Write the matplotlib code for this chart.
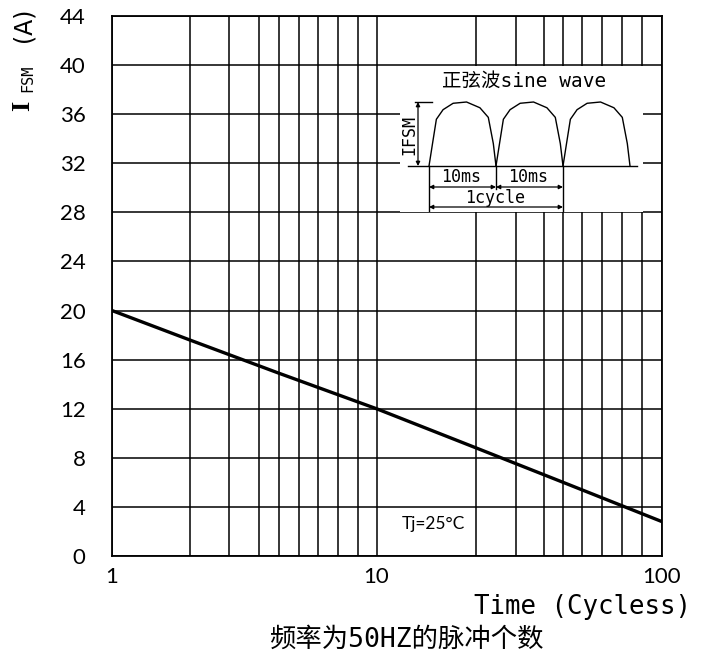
import numpy as np
import matplotlib
matplotlib.use('Agg')
import matplotlib.pyplot as plt

plt.rcParams['font.family'] = ['Lato', 'Noto Sans CJK SC', 'DejaVu Sans']
MONO_CJK = ['DejaVu Sans Mono', 'Noto Sans CJK SC']

# curve
cycles = [1, 2, 5, 10, 20, 50, 100]
ifsm = [20, 17.6, 14.9, 12, 8.8, 6.0, 2.8]

# the printed log grid is not evenly spaced, so map grid values to their drawn positions
grid_x = [1, 2, 3, 4, 5, 6, 7, 8, 9, 10, 20, 30, 40, 50, 60, 70, 80, 90, 100]
grid_pos = [0, 78, 117, 147, 167, 187, 206, 226, 246, 265, 365, 405, 433, 452, 471, 491, 511, 531, 551]
x_ticks = [1, 10, 100]
y_ticks = list(range(0, 45, 4))

def fwd(x):
    return np.interp(x, grid_x, grid_pos)

def inv(p):
    return np.interp(p, grid_pos, grid_x)

W, H = 708, 661
fig = plt.figure(figsize=(W/100, H/100), dpi=100)
ax = fig.add_axes([112/W, 1-556/H, 550/W, 540/H])
ax.set_xscale('function', functions=(fwd, inv))
ax.set_xlim(1, 100)
ax.set_ylim(0, 44)
ax.set_xticks(x_ticks)
ax.set_xticklabels(['1', '10', '100'])
ax.set_xticks(grid_x, minor=True)
ax.set_yticks(y_ticks)
ax.tick_params(which='both', length=0)
ax.tick_params(axis='y', pad=19, labelsize=16)
ax.tick_params(axis='x', pad=8, labelsize=16)
ax.grid(True, which='both', color='black', lw=1.1)
ax.set_axisbelow(True)
for s in ax.spines.values():
    s.set_linewidth(1.3)
ax.plot(cycles, ifsm, color='black', lw=2.4, zorder=3)
ax.text(0.585, 0.06, 'Tj=25°C', transform=ax.transAxes, fontsize=12.5, ha='center', va='center')

# axis labels
fig.text(23/W, 1-106/H, 'I', rotation=90, family=['Liberation Serif'], fontsize=19,
         fontweight='bold', ha='center', va='center')
fig.text(28/W, 1-78/H, 'FSM', rotation=90, family=MONO_CJK, fontsize=11, ha='center', va='center')
fig.text(24/W, 1-25/H, '(A)', rotation=90, family=['DejaVu Sans'], fontsize=17,
         ha='center', va='center')
fig.text(582/W, 1-607/H, 'Time (Cycless)', family=MONO_CJK, fontsize=18.5, ha='center', va='center')
fig.text(406/W, 1-640/H, '频率为50HZ的脉冲个数', family=MONO_CJK,
         fontsize=19, ha='center', va='center')

# inset sketch of the sine wave, in pixel units of the picture
ins = fig.add_axes([400/W, 1-212/H, 243/W, 146/H])
ins.set_xlim(400, 643)
ins.set_ylim(212, 66)
ins.set_xticks([])
ins.set_yticks([])
for s in ins.spines.values():
    s.set_visible(False)
ins.set_facecolor('white')

hump_x = [0, 0.06, 0.11, 0.21, 0.36, 0.56, 0.76, 0.885, 0.96, 1.0]
hump_y = [0, 0.4, 0.73, 0.88, 0.98, 1.0, 0.91, 0.76, 0.35, 0.0]
x0, period, base, top = 429, 67, 166, 102
for k in range(3):
    hx = [x0 + k*period + f*period for f in hump_x]
    hy = [base - f*(base-top) for f in hump_y]
    ins.plot(hx, hy, color='black', lw=1.0)
ins.plot([408, 637], [base, base], color='black', lw=1.0)
ins.plot([415, 432], [top, top], color='black', lw=1.0)
ins.annotate('', xy=(418, top), xytext=(418, base),
             arrowprops=dict(arrowstyle='<|-|>', lw=0.9, color='black', mutation_scale=6, shrinkA=0, shrinkB=0))
ins.text(409, 135, 'IFSM', rotation=90, family=MONO_CJK, fontsize=12, ha='center', va='center')
for xe, ye in [(429, 211), (496, 189), (563, 211)]:
    ins.plot([xe, xe], [base, ye], color='black', lw=1.0)
for a, b, yy in [(429, 496, 187), (496, 563, 187), (429, 563, 207)]:
    ins.annotate('', xy=(a, yy), xytext=(b, yy),
                 arrowprops=dict(arrowstyle='<|-|>', lw=0.9, color='black', mutation_scale=6, shrinkA=0, shrinkB=0))
ins.text(461, 177, '10ms', family=MONO_CJK, fontsize=12, ha='center', va='center')
ins.text(528, 177, '10ms', family=MONO_CJK, fontsize=12, ha='center', va='center')
ins.text(495, 198, '1cycle', family=MONO_CJK, fontsize=12, ha='center', va='center')
ins.text(524, 81, '正弦波sine wave', family=MONO_CJK, fontsize=14,
         ha='center', va='center')

fig.savefig('out.png', dpi=100)
